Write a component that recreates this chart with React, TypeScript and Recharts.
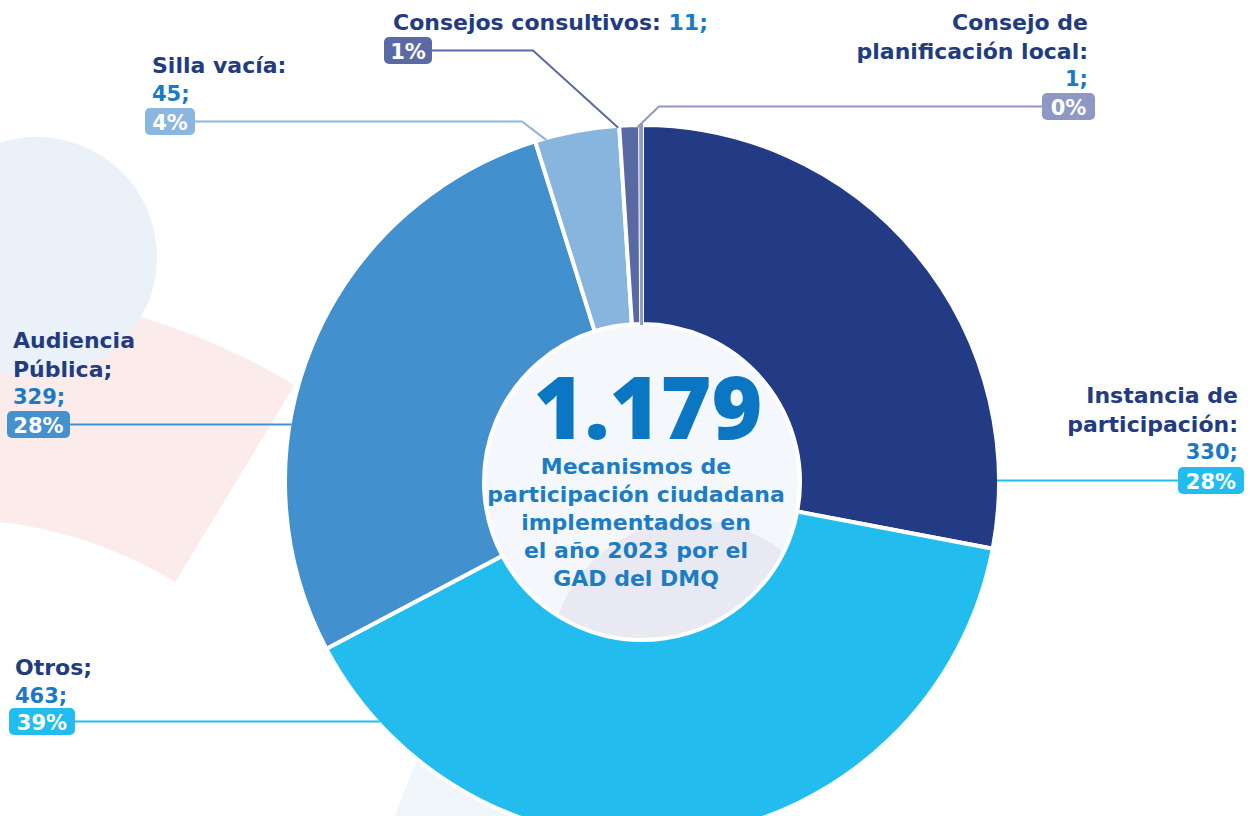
import React from "react";
import { PieChart, Pie, Cell } from "recharts";

// slices, clockwise from 12 o'clock
const CATEGORIES = [
  "Instancia de\nparticipación:",
  "Otros;",
  "Audiencia\nPública;",
  "Silla vacía:",
  "Consejos consultivos:",
  "Consejo de\nplanificación local:",
];
const VALUES = [330, 463, 329, 45, 11, 1];
const SLICE_COLORS = ["#233a84", "#22bdee", "#4291ce", "#88b5de", "#5969a3", "#8e97c5"];
const BADGE_COLORS = ["#22bdee", "#22bdee", "#4391cf", "#8ab6df", "#5a6aa4", "#8f98c5"];
const CENTER_LINES = [
  "Mecanismos de",
  "participación ciudadana",
  "implementados en",
  "el año 2023 por el",
  "GAD del DMQ",
];

const W = 1249;
const H = 816;
const CX = 642;
const CY = 482;
const OUTER = 357;
const INNER = 158;
const DISC_R = 160;

const NAVY = "#233b80";
const VALUE_BLUE = "#1a7bc4";
const FONT = "'DejaVu Sans', sans-serif";
const LINE_GAP = 28.5;
const BADGE_H = 27;

// label placement (page px), one per slice
type Lay = {
  anchor: "start" | "end";
  x: number;
  y: number;
  inline?: boolean;
  badgeX: number;
  badgeY: number;
  badgeW: number;
  elbowX?: number;
  dir: [number, number];
};
const LABEL_LAYOUT: Lay[] = [
  { anchor: "end", x: 1238, y: 403, badgeX: 1178, badgeY: 467, badgeW: 66, dir: [-1, 0] },
  { anchor: "start", x: 15, y: 675, badgeX: 9, badgeY: 708, badgeW: 66, dir: [1, 0] },
  { anchor: "start", x: 13, y: 348, badgeX: 7, badgeY: 411, badgeW: 63, dir: [1, 0] },
  { anchor: "start", x: 152, y: 73, badgeX: 145, badgeY: 108, badgeW: 50, elbowX: 522, dir: [25, 19] },
  { anchor: "start", x: 393, y: 30, inline: true, badgeX: 384, badgeY: 37, badgeW: 48, elbowX: 533, dir: [86, 78] },
  { anchor: "end", x: 1088, y: 30, badgeX: 1042, badgeY: 93, badgeW: 53, elbowX: 659, dir: [-24, 23] },
];

const data = CATEGORIES.map((name, i) => ({ name, value: VALUES[i] }));
const total = VALUES.reduce((a, b) => a + b, 0);
const totalText = String(total).replace(/\B(?=(\d{3})+(?!\d))/g, ".");

// where a ray from (ex,ey) first meets the pie's outer edge
function hitCircle(ex: number, ey: number, dx: number, dy: number, cx: number, cy: number, r: number) {
  const len = Math.hypot(dx, dy);
  const ux = dx / len;
  const uy = dy / len;
  const fx = ex - cx;
  const fy = ey - cy;
  const b = fx * ux + fy * uy;
  const c = fx * fx + fy * fy - r * r;
  const disc = b * b - c;
  if (disc < 0) return [ex, ey];
  const t = -b - Math.sqrt(disc);
  return [ex + t * ux, ey + t * uy];
}

function annularSector(cx: number, cy: number, ri: number, ro: number, a0: number, a1: number) {
  const p = (r: number, a: number) => {
    const rad = (a * Math.PI) / 180;
    return `${cx + r * Math.cos(rad)},${cy + r * Math.sin(rad)}`;
  };
  return `M${p(ro, a0)} A${ro},${ro} 0 0 0 ${p(ro, a1)} L${p(ri, a1)} A${ri},${ri} 0 0 1 ${p(ri, a0)} Z`;
}

const renderLabel = (props: any) => {
  const { cx, cy, outerRadius, index, percent, value, name } = props;
  const lay = LABEL_LAYOUT[index];
  const lines = String(name).split("\n");
  const color = BADGE_COLORS[index];
  const lineY = lay.badgeY + BADGE_H / 2;
  const startX = lay.dir[0] < 0 ? lay.badgeX : lay.badgeX + lay.badgeW;
  const elbowX = lay.elbowX ?? startX;
  const [hx, hy] = hitCircle(elbowX, lineY, lay.dir[0], lay.dir[1], cx, cy, outerRadius - 2);
  const pct = `${Math.round(percent * 100)}%`;

  return (
    <g key={`lbl-${index}`}>
      <polyline
        points={`${startX},${lineY} ${elbowX},${lineY} ${hx},${hy}`}
        fill="none"
        stroke={color}
        strokeWidth={2}
      />
      {lay.inline ? (
        <text x={lay.x} y={lay.y} textAnchor={lay.anchor} fontFamily={FONT} fontWeight={700} fontSize={22} fill={NAVY}>
          {lines[0]} <tspan fill={VALUE_BLUE}>{value};</tspan>
        </text>
      ) : (
        <>
          {lines.map((ln, k) => (
            <text
              key={k}
              x={lay.x}
              y={lay.y + k * LINE_GAP}
              textAnchor={lay.anchor}
              fontFamily={FONT}
              fontWeight={700}
              fontSize={22}
              fill={NAVY}
            >
              {ln}
            </text>
          ))}
          <text
            x={lay.x}
            y={lay.y + lines.length * LINE_GAP - 1}
            textAnchor={lay.anchor}
            fontFamily={FONT}
            fontWeight={600}
            fontSize={21}
            fill={VALUE_BLUE}
          >
            {value};
          </text>
        </>
      )}
      <rect x={lay.badgeX} y={lay.badgeY} width={lay.badgeW} height={BADGE_H} rx={5} fill={color} />
      <text
        x={lay.badgeX + lay.badgeW / 2}
        y={lay.badgeY + BADGE_H / 2 + 8}
        textAnchor="middle"
        fontFamily={FONT}
        fontWeight={700}
        fontSize={21}
        fill="#ffffff"
      >
        {pct}
      </text>
    </g>
  );
};

export default function App() {
  return (
    <div style={{ position: "absolute", left: 0, top: 0, width: W, height: H, background: "#ffffff", overflow: "hidden" }}>
      <svg width={W} height={H} style={{ position: "absolute", left: 0, top: 0 }}>
        <defs>
          <clipPath id="disc-clip">
            <circle cx={CX} cy={CY} r={DISC_R} />
          </clipPath>
          <clipPath id="left-clip">
            <rect x={0} y={0} width={640} height={H} />
          </clipPath>
        </defs>
        {/* soft background shapes */}
        <circle cx={683} cy={901} r={300} fill="#f1f6fb" clipPath="url(#left-clip)" />
        <path d={annularSector(-50, 954, 435, 665, -58.8, -135)} fill="#fbeceb" />
        <circle cx={37} cy={257} r={120} fill="#eaf1f8" />
        <circle cx={CX} cy={CY} r={DISC_R} fill="#f4f8fc" />
        <circle cx={693} cy={663} r={143} fill="#e9e9f3" clipPath="url(#disc-clip)" />
        <text
          x={CX + 6}
          y={CY - 43}
          textAnchor="middle"
          fontFamily="'Open Sans', sans-serif"
          fontWeight={800}
          fontSize={87}
          fill="#0b76c1"
        >
          {totalText}
        </text>
        {CENTER_LINES.map((ln, i) => (
          <text
            key={i}
            x={CX - 6}
            y={CY - 8 + i * 28}
            textAnchor="middle"
            fontFamily={FONT}
            fontWeight={700}
            fontSize={22}
            fill="#1c7cc4"
          >
            {ln}
          </text>
        ))}
      </svg>
      <div style={{ position: "absolute", left: 0, top: 0 }}>
        <PieChart width={W} height={H} margin={{ top: 0, right: 0, bottom: 0, left: 0 }}>
          <Pie
            data={data}
            dataKey="value"
            nameKey="name"
            cx={CX}
            cy={CY}
            innerRadius={INNER}
            outerRadius={OUTER}
            startAngle={90}
            endAngle={-270}
            stroke="#ffffff"
            strokeWidth={4}
            label={renderLabel}
            labelLine={false}
            isAnimationActive={false}
          >
            {data.map((_d, i) => (
              <Cell
                key={i}
                fill={SLICE_COLORS[i]}
                stroke={i === data.length - 1 ? SLICE_COLORS[i] : "#ffffff"}
                strokeWidth={i === data.length - 1 ? 2 : 4}
              />
            ))}
          </Pie>
        </PieChart>
      </div>
    </div>
  );
}
